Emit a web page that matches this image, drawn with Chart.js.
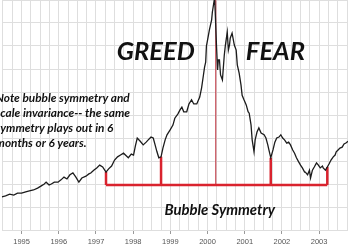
<!DOCTYPE html>
<html>
<head>
<meta charset="utf-8">
<script src="https://cdn.jsdelivr.net/npm/chart.js@4"></script>
<style>
  html, body { margin: 0; padding: 0; background: #fff; }
  #wrap { width: 350px; height: 250px; position: relative; }
</style>
</head>
<body>
<div id="wrap"><canvas id="chart"></canvas></div>
<script>
// index level, dates as decimal years
const dates = [
  1994.47, 1994.57, 1994.68, 1994.79, 1994.89, 1995.00, 1995.11, 1995.21, 1995.32, 1995.43,
  1995.53, 1995.61, 1995.66, 1995.74, 1995.80, 1995.88, 1995.98, 1996.06, 1996.14, 1996.22,
  1996.30, 1996.38, 1996.46, 1996.54, 1996.62, 1996.73, 1996.81, 1996.86, 1996.94, 1997.02,
  1997.10, 1997.18, 1997.27, 1997.34, 1997.42, 1997.50, 1997.58, 1997.66, 1997.74, 1997.82,
  1997.87, 1997.95, 1998.01, 1998.06, 1998.11, 1998.19, 1998.27, 1998.35, 1998.43, 1998.48,
  1998.54, 1998.59, 1998.64, 1998.69, 1998.75, 1998.80, 1998.86, 1998.91, 1998.99, 1999.07,
  1999.12, 1999.20, 1999.26, 1999.31, 1999.36, 1999.44, 1999.50, 1999.57, 1999.63, 1999.71,
  1999.79, 1999.84, 1999.89, 1999.92, 1999.95, 1999.97, 2000.00, 2000.05, 2000.11, 2000.13,
  2000.19, 2000.21, 2000.24, 2000.27, 2000.29, 2000.32, 2000.35, 2000.40, 2000.45, 2000.48,
  2000.53, 2000.56, 2000.59, 2000.61, 2000.66, 2000.72, 2000.77, 2000.80, 2000.85, 2000.90,
  2000.93, 2000.98, 2001.04, 2001.09, 2001.12, 2001.17, 2001.20, 2001.25, 2001.28, 2001.33,
  2001.38, 2001.44, 2001.52, 2001.57, 2001.62, 2001.65, 2001.70, 2001.76, 2001.81, 2001.86,
  2001.92, 2001.97, 2002.02, 2002.07, 2002.13, 2002.18, 2002.23, 2002.29, 2002.34, 2002.39,
  2002.45, 2002.50, 2002.55, 2002.61, 2002.63, 2002.69, 2002.74, 2002.77, 2002.82, 2002.87,
  2002.93, 2002.98, 2003.03, 2003.09, 2003.11, 2003.17, 2003.22, 2003.27, 2003.32, 2003.38,
  2003.43, 2003.46, 2003.51, 2003.56, 2003.62, 2003.67, 2003.72, 2003.78,
];
const index = [
  720, 740, 780, 760, 800, 800, 830, 850, 870, 910,
  960, 1000, 1040, 980, 1000, 1040, 1040, 1090, 1150, 1110,
  1200, 1240, 1150, 1040, 1130, 1170, 1220, 1240, 1300, 1350,
  1410, 1370, 1260, 1330, 1390, 1520, 1590, 1630, 1670, 1610,
  1570, 1650, 1630, 1830, 2000, 1930, 1850, 1910, 1980, 2020,
  2000, 1850, 1700, 1570, 1590, 1780, 1960, 2070, 2170, 2280,
  2430, 2520, 2610, 2670, 2570, 2570, 2740, 2830, 2740, 2740,
  2890, 3090, 3370, 3540, 3650, 4000, 4130, 4350, 4570, 4740,
  5050, 4670, 4020, 3480, 3700, 3700, 3370, 3260, 3800, 4020,
  4300, 3910, 4020, 4170, 4280, 4020, 3910, 3590, 3410, 3150,
  2930, 2830, 2720, 2570, 2540, 2280, 1960, 1700, 1960, 2130,
  2220, 2110, 2070, 2000, 1850, 1740, 1570, 1740, 1910, 2000,
  2020, 2070, 2000, 1960, 1890, 1910, 1850, 1740, 1670, 1570,
  1480, 1410, 1350, 1260, 1260, 1200, 1300, 1130, 1300, 1370,
  1460, 1410, 1350, 1390, 1350, 1300, 1370, 1440, 1520, 1590,
  1630, 1700, 1740, 1780, 1800, 1870, 1890, 1930,
];

// symmetry bracket: the five marker dates and the level they rise from
const markDates = [1997.27, 1998.75, 2000.22, 2001.70, 2003.22];
const markTops = [1260, 1590, 5200, 1570, 1370];
const baseLevel = 980;

const yearTicks = [1995, 1996, 1997, 1998, 1999, 2000, 2001, 2002, 2003];

const RED = "#d9232e";
const FONT = "Lato, 'Open Sans', sans-serif";

const notes = [
  { lines: ["GREED"], x: 1997.56, y: 3700, size: 25.5 },
  { lines: ["FEAR"], x: 2001.03, y: 3700, size: 25.5 },
  {
    lines: [
      "Note bubble symmetry and",
      "scale invariance-- the same",
      "symmetry plays out in 6",
      "months or 6 years.",
    ],
    x: 1994.30, y: 2780, size: 11.8, lineGap: 15,
  },
  { lines: ["Bubble Symmetry"], x: 1998.84, y: 330, size: 14.9 },
];

const series = dates.map((d, i) => ({ x: d, y: index[i] }));

function markerSet(i, width, color) {
  return {
    data: [{ x: markDates[i], y: baseLevel }, { x: markDates[i], y: markTops[i] }],
    showLine: true,
    borderColor: color,
    borderWidth: width,
    pointRadius: 0,
  };
}

const datasets = [
  {
    data: series,
    showLine: true,
    borderColor: "#1c1c1c",
    borderWidth: 1.3,
    pointRadius: 0,
    tension: 0,
  },
  {
    data: [
      { x: markDates[0], y: baseLevel },
      { x: markDates[4], y: baseLevel },
    ],
    showLine: true,
    borderColor: RED,
    borderWidth: 2.5,
    pointRadius: 0,
  },
  markerSet(0, 2.5, RED),
  markerSet(1, 2.5, RED),
  markerSet(2, 1.2, "#c8505a"),
  markerSet(3, 2.5, RED),
  markerSet(4, 2.5, RED),
];

const textPlugin = {
  id: "notes",
  afterDatasetsDraw(chart) {
    const { ctx, scales } = chart;
    ctx.save();
    ctx.fillStyle = "#111";
    ctx.textBaseline = "alphabetic";
    ctx.textAlign = "left";
    notes.forEach((n) => {
      ctx.font = `italic bold ${n.size}px ${FONT}`;
      const x = scales.x.getPixelForValue(n.x);
      const y = scales.y.getPixelForValue(n.y);
      n.lines.forEach((line, k) => {
        ctx.fillText(line, x, y + k * (n.lineGap || 0));
      });
    });
    ctx.restore();
  },
};

new Chart(document.getElementById("chart"), {
  type: "scatter",
  data: { datasets },
  options: {
    responsive: true,
    maintainAspectRatio: false,
    animation: false,
    layout: { padding: 0 },
    plugins: {
      legend: { display: false },
      tooltip: { enabled: false },
    },
    scales: {
      x: {
        type: "linear",
        min: 1994.468,
        max: 2003.777,
        afterBuildTicks: (scale) => {
          const ticks = [];
          for (let k = 0; k <= 37; k += 1) ticks.push({ value: 1994.5 + k * 0.25 });
          scale.ticks = ticks;
        },
        afterFit: (scale) => {
          scale.height = 20;
        },
        border: { display: false },
        grid: {
          color: "#dedede",
          lineWidth: 1,
          tickLength: 4,
          tickColor: (c) =>
            yearTicks.includes(c.tick && c.tick.value) ? "#9a9a9a" : "rgba(0,0,0,0)",
        },
        ticks: {
          autoSkip: false,
          maxRotation: 0,
          padding: 3,
          color: "#555",
          font: { family: "'Liberation Sans', Arial, sans-serif", size: 7.5 },
          callback: (v) => (yearTicks.includes(v) ? String(v) : ""),
        },
      },
      y: {
        min: 0,
        max: 5000,
        afterFit: (scale) => {
          scale.width = 0;
        },
        border: { display: false },
        grid: { color: "#dedede", lineWidth: 1, drawTicks: false },
        ticks: { stepSize: 500, display: false },
      },
    },
  },
  plugins: [textPlugin],
});
</script>
</body>
</html>
